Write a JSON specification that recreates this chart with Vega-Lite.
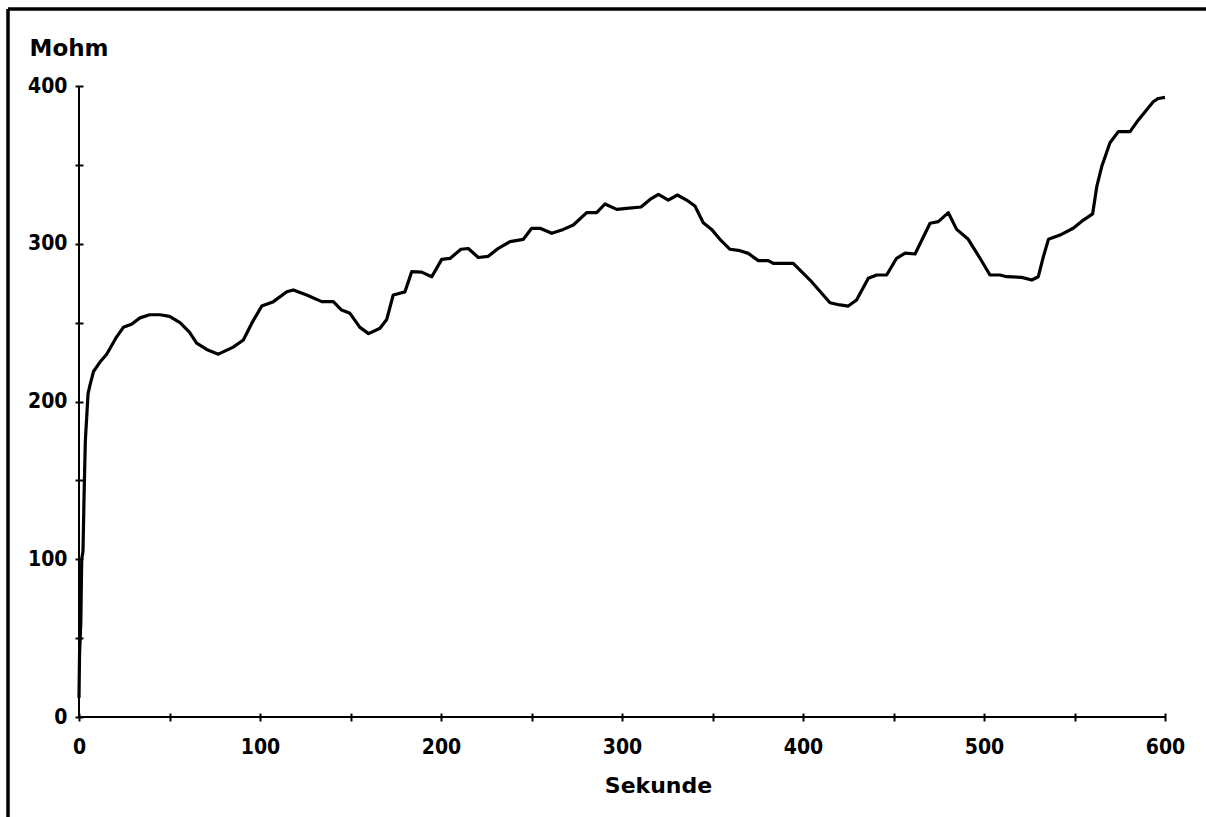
{
  "$schema": "https://vega.github.io/schema/vega-lite/v6.json",
  "width": 1198,
  "height": 808,
  "autosize": {"type": "none"},
  "padding": {"left": 8, "top": 9, "right": 0, "bottom": 0},
  "background": "white",
  "view": {"stroke": "black", "strokeWidth": 3.5, "strokeDash": [1198, 2006, 808, 0], "fill": "white"},
  "encoding": {
    "x": {
      "field": "x", "type": "quantitative",
      "scale": {"domain": [0, 600], "range": [71, 1157], "nice": false, "zero": false},
      "axis": {
        "title": "Sekunde", "orient": "bottom", "offset": -104,
        "values": [0, 50, 100, 150, 200, 250, 300, 350, 400, 450, 500, 550, 600],
        "labelExpr": "datum.value % 100 == 0 ? datum.label : ''",
        "domain": false, "grid": false,
        "ticks": true, "tickSize": 8, "tickWidth": 2, "tickColor": "black",
        "labelFont": "DejaVu Sans Condensed", "labelFontWeight": "bold", "labelFontSize": 21, "labelColor": "black",
        "labelPadding": 15, "labelFlush": false, "labelOverlap": false, "labelBound": false,
        "titleFont": "DejaVu Sans", "titleFontWeight": "bold", "titleFontSize": 22, "titleColor": "black",
        "titleX": 650, "titleY": 79, "titleAlign": "center", "titleBaseline": "alphabetic", "titleAnchor": null
      }
    },
    "y": {
      "field": "y", "type": "quantitative",
      "scale": {"domain": [0, 400], "range": [708, 77], "nice": false, "zero": false},
      "axis": {
        "title": "Mohm", "orient": "left", "offset": -75,
        "values": [0, 50, 100, 150, 200, 250, 300, 350, 400],
        "labelExpr": "datum.value % 100 == 0 ? datum.label : ''",
        "domain": false, "grid": false,
        "ticks": true, "tickSize": 8, "tickWidth": 2, "tickColor": "black",
        "labelFont": "DejaVu Sans Condensed", "labelFontWeight": "bold", "labelFontSize": 21, "labelColor": "black",
        "labelPadding": 8, "labelFlush": false, "labelOverlap": false, "labelBound": false,
        "titleFont": "DejaVu Sans", "titleFontWeight": "bold", "titleFontSize": 23, "titleColor": "black",
        "titleX": -54, "titleY": 46, "titleAngle": 0, "titleAlign": "left", "titleBaseline": "alphabetic", "titleAnchor": null
      }
    }
  },
  "layer": [
    {
      "data": {"values": [
        {"x": 0, "y": 0, "x2": 600, "y2": 0},
        {"x": 0, "y": 0, "x2": 0, "y2": 400}
      ]},
      "mark": {"type": "rule", "color": "black", "strokeWidth": 2},
      "encoding": {"x2": {"field": "x2"}, "y2": {"field": "y2"}}
    },
    {
      "data": {"values": [
        {"x": 0, "y": 12}, {"x": 0.3, "y": 40}, {"x": 1.0, "y": 60}, {"x": 1.5, "y": 100},
        {"x": 2.2, "y": 105}, {"x": 2.8, "y": 140}, {"x": 3.5, "y": 175}, {"x": 4.5, "y": 195},
        {"x": 5, "y": 205}, {"x": 6, "y": 210}, {"x": 8, "y": 219}, {"x": 11.6, "y": 225},
        {"x": 15.3, "y": 230}, {"x": 20.8, "y": 241}, {"x": 24.5, "y": 247}, {"x": 29, "y": 249},
        {"x": 33.7, "y": 253}, {"x": 39, "y": 255}, {"x": 44.8, "y": 255}, {"x": 50, "y": 254},
        {"x": 55.8, "y": 250}, {"x": 61, "y": 244}, {"x": 65, "y": 237}, {"x": 70.5, "y": 233},
        {"x": 77, "y": 230}, {"x": 85.2, "y": 234.5}, {"x": 90.8, "y": 239}, {"x": 95.4, "y": 249.5},
        {"x": 101, "y": 260.5}, {"x": 107.4, "y": 263.3}, {"x": 114.8, "y": 269.6}, {"x": 118.4, "y": 270.7},
        {"x": 125.8, "y": 267.5}, {"x": 134.1, "y": 263.3}, {"x": 140.5, "y": 263.3}, {"x": 145.1, "y": 258},
        {"x": 149.7, "y": 255.9}, {"x": 155.2, "y": 247}, {"x": 160, "y": 243}, {"x": 166.3, "y": 246.4},
        {"x": 170, "y": 252}, {"x": 173.6, "y": 267.5}, {"x": 180.1, "y": 269.5}, {"x": 183.8, "y": 282.3},
        {"x": 189.3, "y": 282}, {"x": 194.9, "y": 279.1}, {"x": 200.4, "y": 290.1}, {"x": 205, "y": 290.7},
        {"x": 211, "y": 296.5}, {"x": 215.1, "y": 297}, {"x": 220.6, "y": 291.3}, {"x": 226.1, "y": 292},
        {"x": 231.7, "y": 297.1}, {"x": 238.1, "y": 301.3}, {"x": 245.5, "y": 302.8}, {"x": 250.1, "y": 309.8},
        {"x": 254.7, "y": 309.8}, {"x": 261.2, "y": 306.6}, {"x": 267.6, "y": 309.1}, {"x": 273.1, "y": 311.9},
        {"x": 280.5, "y": 319.7}, {"x": 286, "y": 319.7}, {"x": 290.6, "y": 325.2}, {"x": 297.1, "y": 321.8},
        {"x": 302.6, "y": 322.4}, {"x": 310.5, "y": 323.3}, {"x": 315.5, "y": 328.1}, {"x": 320.1, "y": 331.3},
        {"x": 325.6, "y": 327.7}, {"x": 330.6, "y": 330.9}, {"x": 335.7, "y": 327.7}, {"x": 340.3, "y": 323.9},
        {"x": 344.9, "y": 313.3}, {"x": 349.5, "y": 309.1}, {"x": 354.1, "y": 302.8}, {"x": 359.7, "y": 296.5},
        {"x": 365.2, "y": 295.6}, {"x": 369.8, "y": 293.9}, {"x": 375.3, "y": 289.3}, {"x": 380.8, "y": 289.3},
        {"x": 383.6, "y": 287.6}, {"x": 394.6, "y": 287.6}, {"x": 403.9, "y": 277}, {"x": 414.9, "y": 262.6},
        {"x": 420.4, "y": 261.2}, {"x": 425, "y": 260.5}, {"x": 429.6, "y": 264.3}, {"x": 436.1, "y": 278.1},
        {"x": 440.7, "y": 280.2}, {"x": 446.2, "y": 280.2}, {"x": 451.7, "y": 290.8}, {"x": 456.4, "y": 294},
        {"x": 461.9, "y": 293.5}, {"x": 470.2, "y": 313}, {"x": 474.8, "y": 314}, {"x": 480.3, "y": 319.7},
        {"x": 484.9, "y": 309.1}, {"x": 491.3, "y": 302.8}, {"x": 497.8, "y": 290.8}, {"x": 503.3, "y": 280.2},
        {"x": 508.8, "y": 280.2}, {"x": 512.5, "y": 279.1}, {"x": 520.8, "y": 278.7}, {"x": 526.4, "y": 277},
        {"x": 530, "y": 279.1}, {"x": 532.8, "y": 291.8}, {"x": 535.6, "y": 302.8}, {"x": 542, "y": 305.5},
        {"x": 549.3, "y": 309.8}, {"x": 554.9, "y": 315}, {"x": 560, "y": 318.9}, {"x": 562.3, "y": 336.2},
        {"x": 565, "y": 348.8}, {"x": 569.6, "y": 364}, {"x": 574.2, "y": 371.1}, {"x": 580.7, "y": 371.1},
        {"x": 585.3, "y": 378.5}, {"x": 593.5, "y": 390}, {"x": 596.3, "y": 392.1}, {"x": 600, "y": 392.8}
      ]},
      "mark": {"type": "line", "color": "black", "strokeWidth": 3.2, "strokeJoin": "round"},
      "encoding": {}
    }
  ]
}
